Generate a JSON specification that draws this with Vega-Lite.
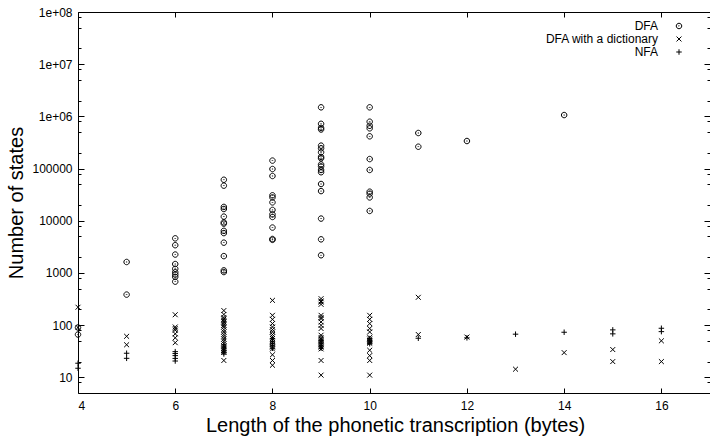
{
  "$schema": "https://vega.github.io/schema/vega-lite/v6.json",
  "width": 632,
  "height": 381,
  "autosize": {"type": "none"},
  "padding": {"left": 78, "top": 12, "right": 0, "bottom": 45},
  "background": "white",
  "config": {
    "font": "Liberation Sans",
    "view": {"stroke": "black", "strokeWidth": 1},
    "axis": {
      "domain": false,
      "grid": false,
      "tickColor": "black",
      "tickWidth": 1,
      "labelColor": "black",
      "labelFontSize": 12,
      "labelFont": "Liberation Sans",
      "titleColor": "black",
      "titleFont": "Liberation Sans",
      "titleFontSize": 20,
      "titleFontWeight": "normal"
    },
    "legend": {
      "labelFont": "Liberation Sans",
      "labelFontSize": 12,
      "labelColor": "black"
    }
  },
  "datasets": {
    "pts": [
      {"len": 4, "states": 90, "type": "DFA"},
      {"len": 4, "states": 66, "type": "DFA"},
      {"len": 5, "states": 1620, "type": "DFA"},
      {"len": 5, "states": 384, "type": "DFA"},
      {"len": 6, "states": 4600, "type": "DFA"},
      {"len": 6, "states": 3400, "type": "DFA"},
      {"len": 6, "states": 2250, "type": "DFA"},
      {"len": 6, "states": 1480, "type": "DFA"},
      {"len": 6, "states": 1200, "type": "DFA"},
      {"len": 6, "states": 1030, "type": "DFA"},
      {"len": 6, "states": 930, "type": "DFA"},
      {"len": 6, "states": 840, "type": "DFA"},
      {"len": 6, "states": 680, "type": "DFA"},
      {"len": 7, "states": 61000, "type": "DFA"},
      {"len": 7, "states": 47000, "type": "DFA"},
      {"len": 7, "states": 18400, "type": "DFA"},
      {"len": 7, "states": 16800, "type": "DFA"},
      {"len": 7, "states": 12000, "type": "DFA"},
      {"len": 7, "states": 9300, "type": "DFA"},
      {"len": 7, "states": 8800, "type": "DFA"},
      {"len": 7, "states": 6400, "type": "DFA"},
      {"len": 7, "states": 5800, "type": "DFA"},
      {"len": 7, "states": 3800, "type": "DFA"},
      {"len": 7, "states": 2100, "type": "DFA"},
      {"len": 7, "states": 1120, "type": "DFA"},
      {"len": 7, "states": 1040, "type": "DFA"},
      {"len": 8, "states": 142000, "type": "DFA"},
      {"len": 8, "states": 98000, "type": "DFA"},
      {"len": 8, "states": 72000, "type": "DFA"},
      {"len": 8, "states": 30700, "type": "DFA"},
      {"len": 8, "states": 28000, "type": "DFA"},
      {"len": 8, "states": 22500, "type": "DFA"},
      {"len": 8, "states": 16100, "type": "DFA"},
      {"len": 8, "states": 13300, "type": "DFA"},
      {"len": 8, "states": 11800, "type": "DFA"},
      {"len": 8, "states": 7400, "type": "DFA"},
      {"len": 8, "states": 4470, "type": "DFA"},
      {"len": 8, "states": 4300, "type": "DFA"},
      {"len": 9, "states": 1490000, "type": "DFA"},
      {"len": 9, "states": 720000, "type": "DFA"},
      {"len": 9, "states": 600000, "type": "DFA"},
      {"len": 9, "states": 560000, "type": "DFA"},
      {"len": 9, "states": 275000, "type": "DFA"},
      {"len": 9, "states": 244000, "type": "DFA"},
      {"len": 9, "states": 205000, "type": "DFA"},
      {"len": 9, "states": 167000, "type": "DFA"},
      {"len": 9, "states": 157000, "type": "DFA"},
      {"len": 9, "states": 120000, "type": "DFA"},
      {"len": 9, "states": 110000, "type": "DFA"},
      {"len": 9, "states": 94000, "type": "DFA"},
      {"len": 9, "states": 85000, "type": "DFA"},
      {"len": 9, "states": 50600, "type": "DFA"},
      {"len": 9, "states": 37000, "type": "DFA"},
      {"len": 9, "states": 11000, "type": "DFA"},
      {"len": 9, "states": 4400, "type": "DFA"},
      {"len": 9, "states": 2180, "type": "DFA"},
      {"len": 10, "states": 1490000, "type": "DFA"},
      {"len": 10, "states": 790000, "type": "DFA"},
      {"len": 10, "states": 660000, "type": "DFA"},
      {"len": 10, "states": 590000, "type": "DFA"},
      {"len": 10, "states": 415000, "type": "DFA"},
      {"len": 10, "states": 152000, "type": "DFA"},
      {"len": 10, "states": 94000, "type": "DFA"},
      {"len": 10, "states": 36000, "type": "DFA"},
      {"len": 10, "states": 33000, "type": "DFA"},
      {"len": 10, "states": 28000, "type": "DFA"},
      {"len": 10, "states": 15400, "type": "DFA"},
      {"len": 11, "states": 480000, "type": "DFA"},
      {"len": 11, "states": 262000, "type": "DFA"},
      {"len": 12, "states": 337000, "type": "DFA"},
      {"len": 14, "states": 1060000, "type": "DFA"},

      {"len": 4, "states": 220, "type": "DFA with a dictionary"},
      {"len": 4, "states": 90, "type": "DFA with a dictionary"},
      {"len": 5, "states": 61, "type": "DFA with a dictionary"},
      {"len": 5, "states": 42, "type": "DFA with a dictionary"},
      {"len": 6, "states": 158, "type": "DFA with a dictionary"},
      {"len": 6, "states": 92, "type": "DFA with a dictionary"},
      {"len": 6, "states": 86, "type": "DFA with a dictionary"},
      {"len": 6, "states": 80, "type": "DFA with a dictionary"},
      {"len": 6, "states": 68, "type": "DFA with a dictionary"},
      {"len": 6, "states": 57, "type": "DFA with a dictionary"},
      {"len": 6, "states": 46, "type": "DFA with a dictionary"},
      {"len": 7, "states": 190, "type": "DFA with a dictionary"},
      {"len": 7, "states": 160, "type": "DFA with a dictionary"},
      {"len": 7, "states": 140, "type": "DFA with a dictionary"},
      {"len": 7, "states": 130, "type": "DFA with a dictionary"},
      {"len": 7, "states": 122, "type": "DFA with a dictionary"},
      {"len": 7, "states": 115, "type": "DFA with a dictionary"},
      {"len": 7, "states": 108, "type": "DFA with a dictionary"},
      {"len": 7, "states": 100, "type": "DFA with a dictionary"},
      {"len": 7, "states": 92, "type": "DFA with a dictionary"},
      {"len": 7, "states": 82, "type": "DFA with a dictionary"},
      {"len": 7, "states": 74, "type": "DFA with a dictionary"},
      {"len": 7, "states": 66, "type": "DFA with a dictionary"},
      {"len": 7, "states": 60, "type": "DFA with a dictionary"},
      {"len": 7, "states": 54, "type": "DFA with a dictionary"},
      {"len": 7, "states": 49, "type": "DFA with a dictionary"},
      {"len": 7, "states": 44, "type": "DFA with a dictionary"},
      {"len": 7, "states": 40, "type": "DFA with a dictionary"},
      {"len": 7, "states": 36, "type": "DFA with a dictionary"},
      {"len": 7, "states": 33, "type": "DFA with a dictionary"},
      {"len": 7, "states": 30, "type": "DFA with a dictionary"},
      {"len": 7, "states": 21, "type": "DFA with a dictionary"},
      {"len": 8, "states": 298, "type": "DFA with a dictionary"},
      {"len": 8, "states": 154, "type": "DFA with a dictionary"},
      {"len": 8, "states": 129, "type": "DFA with a dictionary"},
      {"len": 8, "states": 107, "type": "DFA with a dictionary"},
      {"len": 8, "states": 92, "type": "DFA with a dictionary"},
      {"len": 8, "states": 82, "type": "DFA with a dictionary"},
      {"len": 8, "states": 74, "type": "DFA with a dictionary"},
      {"len": 8, "states": 66, "type": "DFA with a dictionary"},
      {"len": 8, "states": 60, "type": "DFA with a dictionary"},
      {"len": 8, "states": 55, "type": "DFA with a dictionary"},
      {"len": 8, "states": 50, "type": "DFA with a dictionary"},
      {"len": 8, "states": 46, "type": "DFA with a dictionary"},
      {"len": 8, "states": 42, "type": "DFA with a dictionary"},
      {"len": 8, "states": 38, "type": "DFA with a dictionary"},
      {"len": 8, "states": 35, "type": "DFA with a dictionary"},
      {"len": 8, "states": 27, "type": "DFA with a dictionary"},
      {"len": 8, "states": 21, "type": "DFA with a dictionary"},
      {"len": 8, "states": 17, "type": "DFA with a dictionary"},
      {"len": 9, "states": 321, "type": "DFA with a dictionary"},
      {"len": 9, "states": 290, "type": "DFA with a dictionary"},
      {"len": 9, "states": 277, "type": "DFA with a dictionary"},
      {"len": 9, "states": 250, "type": "DFA with a dictionary"},
      {"len": 9, "states": 154, "type": "DFA with a dictionary"},
      {"len": 9, "states": 140, "type": "DFA with a dictionary"},
      {"len": 9, "states": 133, "type": "DFA with a dictionary"},
      {"len": 9, "states": 115, "type": "DFA with a dictionary"},
      {"len": 9, "states": 99, "type": "DFA with a dictionary"},
      {"len": 9, "states": 86, "type": "DFA with a dictionary"},
      {"len": 9, "states": 64, "type": "DFA with a dictionary"},
      {"len": 9, "states": 58, "type": "DFA with a dictionary"},
      {"len": 9, "states": 54, "type": "DFA with a dictionary"},
      {"len": 9, "states": 50, "type": "DFA with a dictionary"},
      {"len": 9, "states": 46, "type": "DFA with a dictionary"},
      {"len": 9, "states": 42, "type": "DFA with a dictionary"},
      {"len": 9, "states": 38, "type": "DFA with a dictionary"},
      {"len": 9, "states": 35, "type": "DFA with a dictionary"},
      {"len": 9, "states": 21, "type": "DFA with a dictionary"},
      {"len": 9, "states": 11, "type": "DFA with a dictionary"},
      {"len": 10, "states": 154, "type": "DFA with a dictionary"},
      {"len": 10, "states": 129, "type": "DFA with a dictionary"},
      {"len": 10, "states": 107, "type": "DFA with a dictionary"},
      {"len": 10, "states": 86, "type": "DFA with a dictionary"},
      {"len": 10, "states": 74, "type": "DFA with a dictionary"},
      {"len": 10, "states": 58, "type": "DFA with a dictionary"},
      {"len": 10, "states": 54, "type": "DFA with a dictionary"},
      {"len": 10, "states": 50, "type": "DFA with a dictionary"},
      {"len": 10, "states": 47, "type": "DFA with a dictionary"},
      {"len": 10, "states": 45, "type": "DFA with a dictionary"},
      {"len": 10, "states": 33, "type": "DFA with a dictionary"},
      {"len": 10, "states": 26, "type": "DFA with a dictionary"},
      {"len": 10, "states": 21, "type": "DFA with a dictionary"},
      {"len": 10, "states": 11, "type": "DFA with a dictionary"},
      {"len": 11, "states": 341, "type": "DFA with a dictionary"},
      {"len": 11, "states": 66, "type": "DFA with a dictionary"},
      {"len": 12, "states": 59, "type": "DFA with a dictionary"},
      {"len": 13, "states": 14.3, "type": "DFA with a dictionary"},
      {"len": 14, "states": 29.7, "type": "DFA with a dictionary"},
      {"len": 15, "states": 34, "type": "DFA with a dictionary"},
      {"len": 15, "states": 20, "type": "DFA with a dictionary"},
      {"len": 16, "states": 50, "type": "DFA with a dictionary"},
      {"len": 16, "states": 20, "type": "DFA with a dictionary"},

      {"len": 4, "states": 18.6, "type": "NFA"},
      {"len": 4, "states": 14.9, "type": "NFA"},
      {"len": 5, "states": 28.9, "type": "NFA"},
      {"len": 5, "states": 23.1, "type": "NFA"},
      {"len": 6, "states": 31, "type": "NFA"},
      {"len": 6, "states": 28.5, "type": "NFA"},
      {"len": 6, "states": 26, "type": "NFA"},
      {"len": 6, "states": 23, "type": "NFA"},
      {"len": 6, "states": 20.5, "type": "NFA"},
      {"len": 7, "states": 42, "type": "NFA"},
      {"len": 7, "states": 38, "type": "NFA"},
      {"len": 7, "states": 35, "type": "NFA"},
      {"len": 7, "states": 32, "type": "NFA"},
      {"len": 7, "states": 30, "type": "NFA"},
      {"len": 7, "states": 28, "type": "NFA"},
      {"len": 8, "states": 55, "type": "NFA"},
      {"len": 8, "states": 48, "type": "NFA"},
      {"len": 8, "states": 44, "type": "NFA"},
      {"len": 8, "states": 40, "type": "NFA"},
      {"len": 8, "states": 36, "type": "NFA"},
      {"len": 9, "states": 50, "type": "NFA"},
      {"len": 9, "states": 45, "type": "NFA"},
      {"len": 9, "states": 40, "type": "NFA"},
      {"len": 9, "states": 36, "type": "NFA"},
      {"len": 10, "states": 55, "type": "NFA"},
      {"len": 10, "states": 50, "type": "NFA"},
      {"len": 10, "states": 47, "type": "NFA"},
      {"len": 10, "states": 44, "type": "NFA"},
      {"len": 11, "states": 56, "type": "NFA"},
      {"len": 12, "states": 57, "type": "NFA"},
      {"len": 13, "states": 67, "type": "NFA"},
      {"len": 14, "states": 73, "type": "NFA"},
      {"len": 15, "states": 81, "type": "NFA"},
      {"len": 15, "states": 68, "type": "NFA"},
      {"len": 16, "states": 87, "type": "NFA"},
      {"len": 16, "states": 75, "type": "NFA"}
    ]
  },
  "data": {"name": "pts"},
  "layer": [
    {
      "mark": {"type": "point", "filled": false, "strokeWidth": 1, "size": 30, "color": "black", "opacity": 1},
      "encoding": {
        "x": {
          "field": "len", "type": "quantitative",
          "scale": {"domain": [4, 17], "nice": false, "zero": false},
          "axis": {"orient": "bottom", "values": [4, 6, 8, 10, 12, 14, 16], "format": "d", "tickSize": -5, "labelPadding": 12, "title": "Length of the phonetic transcription (bytes)", "titlePadding": 4, "titleX": 317}
        },
        "y": {
          "field": "states", "type": "quantitative",
          "scale": {"type": "log", "domain": [5, 100000000], "nice": false},
          "axis": {"orient": "left", "values": [10, 100, 1000, 10000, 100000, 1000000, 10000000, 100000000], "tickSize": -6, "labelPadding": 12, "labelExpr": "datum.value >= 1000000 ? '1e+0' + round(log(datum.value)/LN10) : format(datum.value, 'd')", "title": "Number of states", "titlePadding": 5}
        },
        "shape": {
          "field": "type", "type": "nominal",
          "scale": {
            "domain": ["DFA", "DFA with a dictionary", "NFA"],
            "range": [
              "M-1,0A1,1 0 1,1 1,0A1,1 0 1,1 -1,0Z M-0.12,0A0.12,0.12 0 1,1 0.12,0A0.12,0.12 0 1,1 -0.12,0Z",
              "M-0.9,-0.9L0.9,0.9M-0.9,0.9L0.9,-0.9",
              "M-1,0L1,0M0,-1L0,1"
            ]
          },
          "legend": {
            "title": null,
            "orient": "none",
            "legendX": 595,
            "legendY": 8,
            "padding": 0,
            "rowPadding": 1,
            "symbolSize": 30,
            "symbolStrokeWidth": 1,
            "symbolStrokeColor": "black",
            "symbolFillColor": "transparent",
            "labelAlign": "right",
            "labelOffset": -27
          }
        }
      }
    },
    {
      "mark": {"type": "point", "opacity": 0},
      "encoding": {
        "x": {"field": "len", "type": "quantitative", "scale": {"domain": [4, 17], "nice": false, "zero": false},
          "axis": {"orient": "top", "values": [4, 6, 8, 10, 12, 14, 16], "tickSize": -5, "labels": false, "title": null}},
        "y": {"field": "states", "type": "quantitative", "scale": {"type": "log", "domain": [5, 100000000], "nice": false},
          "axis": {"orient": "right", "values": [10, 100, 1000, 10000, 100000, 1000000, 10000000, 100000000], "tickSize": -6, "labels": false, "title": null}}
      }
    },
    {
      "mark": {"type": "point", "opacity": 0},
      "encoding": {
        "x": {"field": "len", "type": "quantitative", "scale": {"domain": [4, 17], "nice": false, "zero": false}, "axis": null},
        "y": {"field": "states", "type": "quantitative", "scale": {"type": "log", "domain": [5, 100000000], "nice": false},
          "axis": {"orient": "left", "values": [8, 20, 50, 80, 200, 500, 800, 2000, 5000, 8000, 20000, 50000, 80000, 200000, 500000, 800000, 2000000, 5000000, 8000000, 20000000, 50000000, 80000000], "tickSize": -3, "labels": false, "title": null}}
      }
    },
    {
      "mark": {"type": "point", "opacity": 0},
      "encoding": {
        "x": {"field": "len", "type": "quantitative", "scale": {"domain": [4, 17], "nice": false, "zero": false}, "axis": null},
        "y": {"field": "states", "type": "quantitative", "scale": {"type": "log", "domain": [5, 100000000], "nice": false},
          "axis": {"orient": "right", "values": [8, 20, 50, 80, 200, 500, 800, 2000, 5000, 8000, 20000, 50000, 80000, 200000, 500000, 800000, 2000000, 5000000, 8000000, 20000000, 50000000, 80000000], "tickSize": -3, "labels": false, "title": null}}
      }
    }
  ],
  "resolve": {"axis": {"x": "independent", "y": "independent"}}
}
